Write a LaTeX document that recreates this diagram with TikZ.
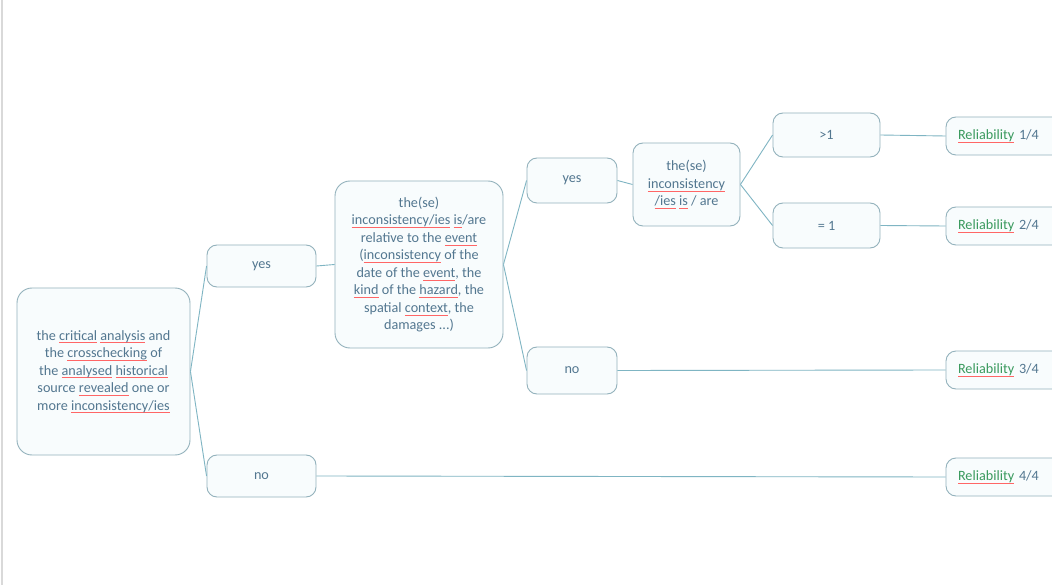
\documentclass[tikz,border=0pt]{standalone}
\usepackage{fontspec}
\setmainfont{Carlito}
\definecolor{edge}{HTML}{93B2BC}
\definecolor{linkc}{HTML}{7FB5C3}
\definecolor{ink}{HTML}{537790}
\definecolor{relgreen}{HTML}{3A9A5E}
\definecolor{boxfill}{HTML}{F8FCFD}
% spell-check style underline
\newsavebox\splbox
\newcommand\spl[1]{\sbox\splbox{#1}\rlap{\textcolor{red!60}{\rule[-2.8pt]{\wd\splbox}{0.5pt}}}\usebox\splbox}
\tikzset{
  box/.style={draw=edge, line width=0.9pt, rounded corners=10pt, fill=boxfill,
    text=ink, align=center, inner sep=0pt,
    font=\fontsize{14.2}{17.5}\selectfont},
  bigbox/.style={box, rounded corners=15pt},
  relbox/.style={box, minimum width=120pt, minimum height=38pt,
    text width=96pt, inner xsep=12pt, align=left},
  linkl/.style={draw=linkc, line width=0.9pt},
}
\newcommand\rel[1]{{\color{relgreen}\spl{Reliability}} #1}
\begin{document}
\begin{tikzpicture}[x=1pt,y=-1pt]
\useasboundingbox (0,0) rectangle (1052,585);
\clip (0,0) rectangle (1052,585);
\fill[white] (0,0) rectangle (1052,585);
\draw[black!15, line width=2pt] (1.5,0) -- (1.5,585);

% decision boxes
\node[bigbox, minimum width=173pt, minimum height=167pt] (root) at (103.5,371.5)
  {the \spl{critical} \spl{analysis} and\\ the \spl{crosschecking} of\\
   the \spl{analysed} \spl{historical}\\ source \spl{revealed} one or\\
   more \spl{inconsistency/ies}};
\node[box, minimum width=109pt, minimum height=42pt] (yes1) at (261.5,266) {yes};
\node[box, minimum width=109pt, minimum height=42pt] (no1) at (261.5,476) {no};
\node[bigbox, minimum width=168pt, minimum height=167pt] (inc) at (419,264.5)
  {the(se)\\ \spl{inconsistency/ies} \spl{is}/are\\ relative to the \spl{event}\\
   (\spl{inconsistency} of the\\ date of the \spl{event}, the\\
   \spl{kind} of the \spl{hazard}, the\\ spatial \spl{context}, the\\ damages ...)};
\node[box, minimum width=90pt, minimum height=45pt] (yes2) at (572,180.5) {yes};
\node[box, minimum width=90pt, minimum height=47pt] (no2) at (572,370.5) {no};
\node[box, minimum width=107pt, minimum height=83pt] (these) at (686.5,184.5)
  {the(se)\\ \spl{inconsistency}\\ \spl{/ies} \spl{is} / are};
\node[box, minimum width=107pt, minimum height=44pt] (gt) at (826.5,135) {>1};
\node[box, minimum width=107pt, minimum height=45pt] (eq) at (826.5,225.5) {= 1};

% outcomes
\node[relbox] (r1) at (1006,136) {\rel{1/4}};
\node[relbox] (r2) at (1006,226) {\rel{2/4}};
\node[relbox] (r3) at (1006,370) {\rel{3/4}};
\node[relbox] (r4) at (1006,477) {\rel{4/4}};

% connectors
\draw[linkl] (root.east) -- (yes1.west);
\draw[linkl] (root.east) -- (no1.west);
\draw[linkl] (yes1.east) -- (inc.west);
\draw[linkl] (inc.east) -- (yes2.west);
\draw[linkl] (inc.east) -- (no2.west);
\draw[linkl] (yes2.east) -- (these.west);
\draw[linkl] (these.east) -- (gt.west);
\draw[linkl] (these.east) -- (eq.west);
\draw[linkl] (gt.east) -- (r1.west);
\draw[linkl] (eq.east) -- (r2.west);
\draw[linkl] (no2.east) -- (r3.west);
\draw[linkl] (no1.east) -- (r4.west);
\end{tikzpicture}
\end{document}
